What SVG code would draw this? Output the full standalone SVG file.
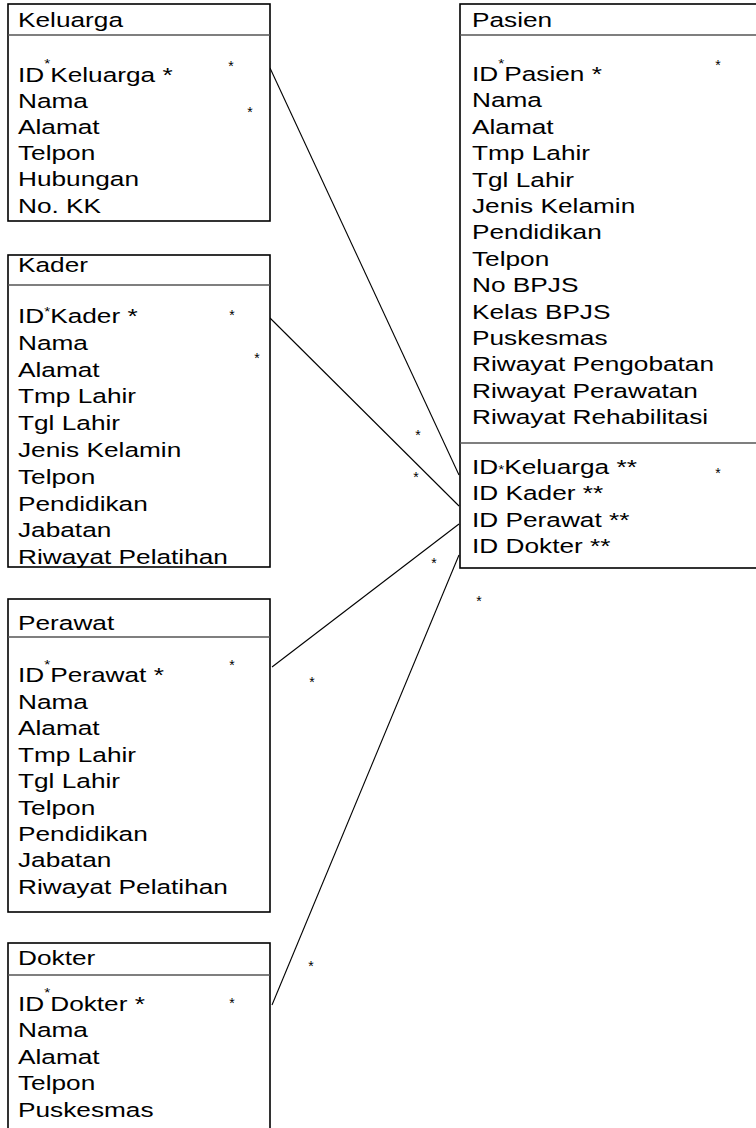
<svg xmlns="http://www.w3.org/2000/svg" width="756" height="1128" viewBox="0 0 756 1128">
<style>
.box{fill:#fff;stroke:#000;stroke-width:1.6}
.sep{stroke:#555;stroke-width:1.3}
.t{font-family:"Liberation Sans",Arial,sans-serif;font-size:20.5px;fill:#000}
.sm{font-size:12px}
.s{font-family:"Liberation Sans",Arial,sans-serif;font-size:14px;fill:#000;text-anchor:middle}
.con{stroke:#000;stroke-width:1.1;fill:none}
</style>
<rect width="756" height="1128" fill="#fff"/>
<g id="connectors">
<line class="con" x1="270" y1="68" x2="459" y2="475"/>
<line class="con" x1="270" y1="318" x2="459" y2="506"/>
<line class="con" x1="272" y1="667" x2="459" y2="524"/>
<line class="con" x1="272" y1="1005" x2="459" y2="555"/>
<text class="s" x="418" y="440">*</text>
<text class="s" x="416" y="482">*</text>
<text class="s" x="434" y="568">*</text>
<text class="s" x="479" y="606">*</text>
<text class="s" x="312" y="687">*</text>
<text class="s" x="311" y="971">*</text>
</g>
<g id="keluarga">
<rect class="box" x="8" y="4" width="262" height="217"/>
<line class="sep" x1="8" y1="35" x2="270" y2="35"/>
<g class="t" transform="translate(18,0) scale(1.28,1)">
<text y="27">Keluarga</text>
<text y="82">ID<tspan class="sm" dy="-14">*</tspan><tspan dy="14">Keluarga *</tspan></text>
<text y="108">Nama</text>
<text y="134">Alamat</text>
<text y="160">Telpon</text>
<text y="186">Hubungan</text>
<text y="213">No. KK</text>
</g>
<text class="s" x="231" y="71">*</text>
<text class="s" x="250" y="117">*</text>
</g>
<g id="kader">
<rect class="box" x="8" y="255" width="262" height="312"/>
<line class="sep" x1="8" y1="285" x2="270" y2="285"/>
<g class="t" transform="translate(18,0) scale(1.28,1)">
<text y="272">Kader</text>
<text y="323">ID<tspan class="sm" dy="-7">*</tspan><tspan dy="7">Kader *</tspan></text>
<text y="350">Nama</text>
<text y="376.6">Alamat</text>
<text y="403.4">Tmp Lahir</text>
<text y="430.2">Tgl Lahir</text>
<text y="457">Jenis Kelamin</text>
<text y="483.8">Telpon</text>
<text y="510.6">Pendidikan</text>
<text y="537.4">Jabatan</text>
<text y="564">Riwayat Pelatihan</text>
</g>
<text class="s" x="232" y="320">*</text>
<text class="s" x="257" y="363">*</text>
</g>
<g id="perawat">
<rect class="box" x="8" y="599" width="262" height="313"/>
<line class="sep" x1="8" y1="637" x2="270" y2="637"/>
<g class="t" transform="translate(18,0) scale(1.28,1)">
<text y="630">Perawat</text>
<text y="682">ID<tspan class="sm" dy="-13">*</tspan><tspan dy="13">Perawat *</tspan></text>
<text y="709">Nama</text>
<text y="735.4">Alamat</text>
<text y="761.8">Tmp Lahir</text>
<text y="788.2">Tgl Lahir</text>
<text y="814.6">Telpon</text>
<text y="841">Pendidikan</text>
<text y="867.4">Jabatan</text>
<text y="893.8">Riwayat Pelatihan</text>
</g>
<text class="s" x="232" y="670">*</text>
</g>
<g id="dokter">
<rect class="box" x="8" y="943" width="262" height="200"/>
<line class="sep" x1="8" y1="975" x2="270" y2="975"/>
<g class="t" transform="translate(18,0) scale(1.28,1)">
<text y="965">Dokter</text>
<text y="1011">ID<tspan class="sm" dy="-14">*</tspan><tspan dy="14">Dokter *</tspan></text>
<text y="1037">Nama</text>
<text y="1064">Alamat</text>
<text y="1090">Telpon</text>
<text y="1117">Puskesmas</text>
</g>
<text class="s" x="232" y="1008">*</text>
</g>
<g id="pasien">
<rect class="box" x="460" y="4" width="310" height="564"/>
<line class="sep" x1="460" y1="35" x2="756" y2="35"/>
<line class="sep" x1="460" y1="443" x2="756" y2="443"/>
<g class="t" transform="translate(472,0) scale(1.28,1)">
<text y="27">Pasien</text>
<text y="81">ID<tspan class="sm" dy="-13">*</tspan><tspan dy="13">Pasien *</tspan></text>
<text y="107.4">Nama</text>
<text y="133.8">Alamat</text>
<text y="160.2">Tmp Lahir</text>
<text y="186.6">Tgl Lahir</text>
<text y="213">Jenis Kelamin</text>
<text y="239.4">Pendidikan</text>
<text y="265.8">Telpon</text>
<text y="292.2">No BPJS</text>
<text y="318.6">Kelas BPJS</text>
<text y="345">Puskesmas</text>
<text y="371.4">Riwayat Pengobatan</text>
<text y="397.8">Riwayat Perawatan</text>
<text y="424.2">Riwayat Rehabilitasi</text>
<text y="474">ID<tspan class="sm">*</tspan>Keluarga **</text>
<text y="500.5">ID Kader **</text>
<text y="527">ID Perawat **</text>
<text y="553">ID Dokter **</text>
</g>
<text class="s" x="718" y="70">*</text>
<text class="s" x="718" y="478">*</text>
</g>
</svg>
